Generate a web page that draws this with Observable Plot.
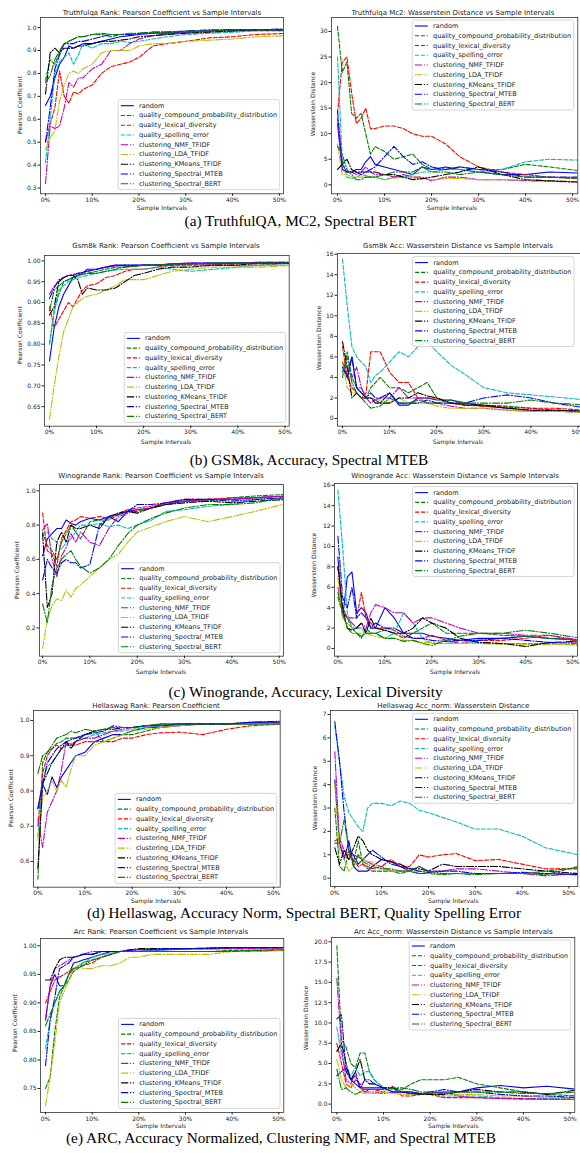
<!DOCTYPE html>
<html><head><meta charset="utf-8">
<script src="https://cdn.jsdelivr.net/npm/d3@7"></script>
<script src="https://cdn.jsdelivr.net/npm/@observablehq/plot@0.6"></script>
<style>
html,body{margin:0;padding:0;background:#fff;overflow:hidden}
#fig{position:relative;width:580px;height:1153px;font-family:"DejaVu Sans",sans-serif}
#fig svg{position:absolute}
</style></head><body><div id="fig"></div>
<script>
// ---------- shared data ----------
const sampleIntervals = [0,1,2,3,4,5,6,7,8,10,12,14,16,18,20,23,26,30,35,40,45,52];
const xTickValues = [0,10,20,30,40,50];
const seriesNames = ["random","quality_compound_probability_distribution","quality_lexical_diversity","quality_spelling_error","clustering_NMF_TFIDF","clustering_LDA_TFIDF","clustering_KMeans_TFIDF","clustering_Spectral_MTEB","clustering_Spectral_BERT"];

// y tick labels
const ticksTruthfulqaRank = [0.3,0.4,0.5,0.6,0.7,0.8,0.9,1.0];
const ticksTruthfulqaMc2 = [0,5,10,15,20,25,30];
const ticksGsm8kRank = [0.65,0.70,0.75,0.80,0.85,0.90,0.95,1.00];
const ticksGsm8kAcc = [0,2,4,6,8,10,12,14,16];
const ticksWinograndeRank = [0.2,0.4,0.6,0.8,1.0];
const ticksWinograndeAcc = [0,2,4,6,8,10,12,14,16];
const ticksHellaswagRank = [0.6,0.7,0.8,0.9,1.0];
const ticksHellaswagAcc = [0,1,2,3,4,5,6,7];
const ticksArcRank = [0.75,0.80,0.85,0.90,0.95,1.00];
const ticksArcAcc = [0,2.5,5,7.5,10,12.5,15,17.5,20];

// ---------- series values (one row per series, same order as seriesNames) ----------
const truthfulqaRank = [
 [0.66,0.70,0.78,0.84,0.87,0.92,0.91,0.92,0.93,0.93,0.94,0.95,0.96,0.965,0.97,0.975,0.975,0.98,0.985,0.99,0.99,0.99],
 [0.77,0.86,0.84,0.89,0.93,0.94,0.95,0.96,0.96,0.97,0.97,0.96,0.97,0.97,0.975,0.975,0.98,0.98,0.985,0.985,0.99,0.99],
 [0.50,0.58,0.65,0.81,0.70,0.67,0.72,0.71,0.73,0.75,0.80,0.83,0.84,0.85,0.87,0.92,0.93,0.94,0.955,0.96,0.97,0.975],
 [0.41,0.60,0.80,0.85,0.87,0.89,0.84,0.88,0.93,0.91,0.93,0.93,0.94,0.935,0.94,0.95,0.96,0.97,0.975,0.98,0.985,0.985],
 [0.32,0.57,0.56,0.57,0.65,0.76,0.74,0.78,0.78,0.82,0.84,0.90,0.90,0.93,0.95,0.965,0.97,0.98,0.985,0.99,0.99,0.99],
 [0.47,0.52,0.55,0.68,0.75,0.80,0.81,0.80,0.82,0.84,0.89,0.90,0.90,0.90,0.92,0.93,0.93,0.94,0.945,0.95,0.96,0.965],
 [0.71,0.89,0.91,0.89,0.91,0.91,0.91,0.92,0.92,0.93,0.94,0.94,0.945,0.95,0.96,0.965,0.97,0.975,0.98,0.985,0.99,0.99],
 [0.50,0.65,0.82,0.88,0.93,0.93,0.93,0.94,0.94,0.95,0.96,0.97,0.97,0.97,0.975,0.98,0.98,0.985,0.99,0.99,0.99,0.995],
 [0.76,0.79,0.86,0.90,0.93,0.94,0.95,0.96,0.96,0.97,0.975,0.97,0.97,0.975,0.975,0.98,0.98,0.985,0.985,0.99,0.99,0.99]
];
const truthfulqaMc2 = [
 [12,3,2.5,2.5,3,3,4.5,5.5,4,3.5,3,2.5,2,3.5,3,3.5,3,2.5,2,2,2.5,2.3],
 [31,22,24,14,13,14,10,6,7.5,6.5,5,5.5,6,4,3,3,3.5,3,3,4,3.5,2.7],
 [14,24,25,18,12,13,15,11,11,11.5,11.5,11,10,9.5,9.5,8,5.5,3.5,2.5,2,1.5,1.2],
 [25,5,1.5,1.2,1.5,2,1.8,1.6,1.5,1,1.5,1.5,2,2.5,2.5,3,3,2.5,3,4.5,5,4.8],
 [13,3,2.5,2.5,2,2.5,3.5,2.5,2,2,1.5,2,1.5,1.5,0.8,1.5,1.5,1,1,0.8,0.7,0.5],
 [8,2,2,1.5,1.5,1.5,1.5,1.5,1.5,1,1.3,1.5,1.3,1.2,1,1.2,1.2,1,1,1,0.8,0.6],
 [3,4,5,3,2.5,2.5,2.5,2.5,2.5,2,2,1.5,1,1.2,1.5,2,2.5,3.5,2,1,0.8,0.5],
 [14.5,4,2.5,2.5,2.5,2,2.5,3,3.5,5.5,7.5,5.5,4,4.5,3.5,3,3.5,3,2.5,1.5,1.5,1.5],
 [7.5,6,3,2,1,1,1.5,1.5,1.5,2,2.5,2.5,2.5,3.5,2.5,2.5,2,2.5,2,1.5,1.5,1.2]
];
const gsm8kRank = [
 [0.76,0.84,0.89,0.92,0.94,0.96,0.965,0.97,0.98,0.98,0.985,0.99,0.988,0.988,0.99,0.99,0.99,0.993,0.993,0.995,0.995,0.995],
 [0.80,0.88,0.92,0.95,0.955,0.96,0.965,0.968,0.97,0.975,0.98,0.985,0.985,0.987,0.99,0.99,0.993,0.993,0.995,0.995,0.995,0.995],
 [0.89,0.84,0.86,0.88,0.90,0.89,0.91,0.93,0.94,0.945,0.96,0.965,0.975,0.98,0.98,0.985,0.99,0.99,0.99,0.99,0.99,0.995],
 [0.80,0.88,0.93,0.94,0.95,0.955,0.96,0.962,0.965,0.97,0.975,0.978,0.98,0.98,0.98,0.985,0.98,0.975,0.98,0.985,0.99,0.99],
 [0.92,0.94,0.95,0.96,0.965,0.968,0.97,0.972,0.975,0.98,0.985,0.988,0.99,0.99,0.99,0.99,0.993,0.995,0.995,0.995,0.997,0.997],
 [0.62,0.70,0.77,0.83,0.86,0.89,0.90,0.91,0.915,0.92,0.93,0.94,0.955,0.955,0.955,0.965,0.975,0.98,0.985,0.985,0.985,0.99],
 [0.87,0.89,0.95,0.96,0.965,0.965,0.955,0.92,0.935,0.93,0.93,0.935,0.95,0.965,0.97,0.98,0.985,0.985,0.99,0.99,0.995,0.995],
 [0.91,0.935,0.955,0.96,0.965,0.965,0.97,0.972,0.975,0.98,0.985,0.99,0.99,0.99,0.99,0.99,0.993,0.995,0.995,0.995,0.995,0.995],
 [0.88,0.93,0.94,0.95,0.955,0.96,0.965,0.968,0.97,0.97,0.975,0.98,0.985,0.987,0.99,0.99,0.993,0.993,0.995,0.995,0.995,0.995]
];
const gsm8kAcc = [
 [5.5,4,6,3,2.5,2,2,1.8,1.5,2.5,1.3,1.3,2,2,1.8,1.8,1.5,1.2,1,0.8,0.8,0.7],
 [4,6.5,4,3,3,2,3,3.5,4,3,3,2.5,3,3.5,2,1.5,1.5,1.3,1.2,1,0.8,0.7],
 [7,4,3,2.5,2,2.5,6.5,6.5,6.5,4.5,3.5,3.5,2,2,2,1.5,1.3,1.2,1.1,1,1,0.8],
 [15.5,11,7,6,5.5,5,3.5,4.2,4.5,5.5,6.5,6,7,7.5,6.5,5.2,4.3,3,2.5,2.3,2.1,1.8],
 [5,5,4,5,3,2,1.5,1.8,2,2,3,2,2,1.5,1.5,1.2,1,1,0.8,0.7,0.7,0.6],
 [5.5,3,2.5,2.5,2,2,2,1.8,1.8,1.5,2,1.5,1.5,1.5,1.2,1,1,1,0.8,0.7,0.7,0.6],
 [7.5,5,2,2.5,2,2,2,1.5,1.5,1.5,2,2,2.5,2.2,2,1.5,1.3,1.3,1,0.8,0.8,0.7],
 [5,4,6,3,2.5,2,2.5,2,2,2.5,1.5,1.5,1.5,1.8,1.5,1.5,1.5,2,2.3,2,1.5,1],
 [4.5,6,3.5,2.5,2,1.5,1,1.1,1.2,2,1.5,1.5,1.8,1.5,1.5,1.8,1.5,1.5,1.5,1.8,1.5,1.3]
];
const winograndeRank = [
 [0.62,0.72,0.75,0.78,0.78,0.83,0.81,0.80,0.82,0.84,0.83,0.85,0.82,0.88,0.89,0.90,0.92,0.94,0.95,0.95,0.96,0.97],
 [0.76,0.68,0.65,0.60,0.70,0.75,0.80,0.76,0.72,0.82,0.83,0.83,0.86,0.88,0.88,0.90,0.93,0.94,0.94,0.96,0.97,0.98],
 [0.87,0.65,0.63,0.56,0.72,0.77,0.82,0.83,0.85,0.84,0.85,0.84,0.87,0.89,0.90,0.91,0.93,0.95,0.95,0.96,0.96,0.97],
 [0.74,0.76,0.72,0.70,0.66,0.70,0.72,0.76,0.80,0.80,0.81,0.79,0.80,0.78,0.80,0.83,0.88,0.89,0.91,0.92,0.95,0.96],
 [0.77,0.81,0.60,0.50,0.62,0.67,0.75,0.70,0.76,0.70,0.68,0.78,0.85,0.87,0.89,0.90,0.93,0.94,0.95,0.95,0.96,0.97],
 [0.08,0.25,0.33,0.37,0.36,0.42,0.38,0.43,0.45,0.50,0.55,0.60,0.63,0.70,0.76,0.79,0.82,0.85,0.82,0.85,0.88,0.93],
 [0.75,0.32,0.40,0.70,0.76,0.70,0.80,0.78,0.78,0.80,0.78,0.85,0.87,0.88,0.87,0.90,0.92,0.93,0.94,0.93,0.94,0.95],
 [0.48,0.60,0.55,0.52,0.58,0.60,0.58,0.58,0.55,0.57,0.80,0.85,0.86,0.88,0.92,0.92,0.93,0.95,0.95,0.94,0.95,0.96],
 [0.34,0.23,0.45,0.55,0.60,0.63,0.65,0.60,0.56,0.52,0.55,0.60,0.68,0.75,0.80,0.84,0.87,0.90,0.92,0.92,0.93,0.97]
];
const winograndeAcc = [
 [9,3,7,7.5,3.5,4,3.5,2,2,4,3,1.5,1.5,1.5,1.2,1,0.8,1,1,1.2,1,0.8],
 [5,3.5,3,2,1.5,1,2,1.5,1.5,1.8,1.5,1,1.5,2,2.5,1.5,1.5,1.5,1.3,1.2,1,0.8],
 [8,4,3,3,3,5.5,3,2.5,2,2,1.8,1.2,1,1,1.3,0.8,0.5,0.8,0.8,1,1.3,0.6],
 [15.5,10,3.5,2,2,2,1.5,1.5,1.5,1,1.5,3.5,2.5,1,0.5,0.5,0.8,0.5,0.5,0.5,0.5,0.3],
 [6,4,3,2.5,2,2.5,2,3.5,4.3,4,3.5,3.5,2.5,3,3,2.5,2,1.5,1.5,1.3,1.3,0.8],
 [7,3,2.5,2,1.5,1.5,1.5,1.3,1.2,1,1,0.8,0.8,0.6,0.6,0.5,0.5,0.5,0.4,0.4,0.4,0.4],
 [8,4,2,1.8,2,2.5,1.5,3,2,1.8,1.5,1.5,2,3,2.5,2,1,0.6,0.5,0.2,0.6,0.7],
 [11,5,4,6,3,3.5,3,2,2.5,2,2,1.5,1,1,0.8,0.7,0.8,0.8,1,0.8,0.6,0.5],
 [5.5,3.5,2,1.5,1.5,1.2,1.5,1.5,1.5,1,1,0.7,0.8,0.5,0.3,0.8,1.2,1.5,1.5,1.8,1.5,1]
];
const hellaswagRank = [
 [0.75,0.82,0.79,0.84,0.81,0.84,0.86,0.88,0.90,0.91,0.94,0.95,0.96,0.96,0.97,0.98,0.98,0.985,0.99,0.99,0.99,0.995],
 [0.55,0.88,0.91,0.92,0.935,0.94,0.95,0.95,0.95,0.96,0.97,0.94,0.95,0.96,0.96,0.97,0.98,0.99,0.99,0.99,0.99,0.99],
 [0.70,0.85,0.90,0.92,0.93,0.92,0.93,0.93,0.93,0.94,0.94,0.94,0.94,0.95,0.95,0.96,0.965,0.967,0.96,0.975,0.985,0.99],
 [0.67,0.82,0.87,0.88,0.90,0.92,0.93,0.935,0.94,0.95,0.96,0.965,0.97,0.97,0.975,0.98,0.985,0.99,0.99,0.99,0.99,0.99],
 [0.72,0.64,0.74,0.77,0.80,0.86,0.94,0.93,0.94,0.95,0.95,0.96,0.97,0.975,0.98,0.985,0.985,0.99,0.99,0.99,0.993,0.995],
 [0.66,0.78,0.80,0.83,0.80,0.83,0.81,0.86,0.90,0.90,0.93,0.94,0.95,0.96,0.97,0.975,0.98,0.985,0.99,0.99,0.99,0.995],
 [0.58,0.82,0.85,0.88,0.90,0.92,0.94,0.92,0.94,0.96,0.97,0.975,0.975,0.98,0.98,0.985,0.99,0.99,0.99,0.99,0.995,0.998],
 [0.75,0.82,0.88,0.90,0.92,0.93,0.94,0.945,0.95,0.96,0.965,0.97,0.985,0.98,0.98,0.985,0.985,0.99,0.99,0.99,0.995,0.995],
 [0.85,0.90,0.91,0.93,0.95,0.955,0.96,0.97,0.965,0.975,0.97,0.975,0.98,0.98,0.98,0.985,0.99,0.99,0.99,0.99,0.99,0.99]
];
const hellaswagAcc = [
 [4.2,1.5,0.8,1.6,0.5,0.3,0.3,0.3,0.5,0.8,0.7,0.5,0.3,0.2,0.2,0.2,0.2,0.2,0.2,0.2,0.2,0.15],
 [3,0.5,0.3,1.2,0.7,1.6,0.6,0.4,0.3,0.3,0.3,0.2,0.3,0.2,0.2,0.15,0.2,0.2,0.2,0.2,0.15,0.5],
 [1.6,1.7,1.2,1,0.8,0.5,0.6,0.5,0.4,0.5,0.8,0.5,0.5,1,0.9,1,1.05,0.75,0.8,0.6,0.4,0.4],
 [6.5,5,3.5,2.8,2.5,2.2,2,3,3.2,3.2,3.1,3.3,3.2,2.9,2.8,2.6,2.4,2.1,2.1,1.8,1.3,1],
 [5.4,1.5,1,0.8,1,0.9,0.8,0.7,0.6,0.5,0.3,0.3,0.3,0.5,0.3,0.3,0.4,0.4,0.3,0.2,0.1,0.2],
 [4,1.2,0.8,0.3,0.5,1,0.8,0.7,0.7,0.4,0.3,0.3,0.3,0.3,0.2,0.2,0.2,0.2,0.2,0.2,0.2,0.2],
 [1.3,0.6,1.2,0.8,1.3,1.8,1.6,1.2,1,0.8,0.7,0.6,0.4,0.4,0.3,0.6,0.5,0.5,0.5,0.4,0.3,0.2],
 [6.7,5,2.8,1.2,1,0.6,0.8,1,1.2,0.9,0.6,0.5,0.4,0.3,0.25,0.3,0.3,0.2,0.2,0.25,0.2,0.15],
 [1.5,1.5,2.5,1.2,0.5,1,0.7,0.6,0.5,0.4,0.4,0.3,0.3,0.5,0.3,0.2,0.2,0.15,0.2,0.2,0.3,0.45]
];
const arcRank = [
 [0.87,0.93,0.95,0.93,0.93,0.95,0.97,0.972,0.975,0.98,0.985,0.99,0.99,0.99,0.99,0.992,0.993,0.995,0.995,0.996,0.997,0.997],
 [0.75,0.77,0.85,0.91,0.93,0.94,0.955,0.96,0.97,0.975,0.98,0.985,0.99,0.99,0.99,0.99,0.99,0.99,0.99,0.992,0.992,0.993],
 [0.90,0.92,0.94,0.945,0.95,0.955,0.96,0.962,0.965,0.97,0.98,0.985,0.99,0.99,0.99,0.99,0.99,0.99,0.99,0.99,0.99,0.993],
 [0.82,0.87,0.90,0.92,0.93,0.95,0.96,0.965,0.97,0.98,0.985,0.987,0.99,0.99,0.99,0.992,0.993,0.994,0.995,0.995,0.995,0.995],
 [0.87,0.93,0.96,0.965,0.97,0.975,0.98,0.982,0.985,0.99,0.99,0.99,0.99,0.992,0.993,0.993,0.994,0.995,0.995,0.995,0.995,0.995],
 [0.72,0.77,0.83,0.90,0.92,0.94,0.96,0.965,0.96,0.96,0.965,0.965,0.97,0.98,0.98,0.985,0.985,0.985,0.985,0.99,0.99,0.992],
 [0.94,0.94,0.96,0.975,0.98,0.98,0.98,0.982,0.985,0.985,0.99,0.99,0.99,0.993,0.995,0.995,0.995,0.995,0.996,0.997,0.997,0.997],
 [0.79,0.87,0.91,0.96,0.965,0.97,0.98,0.982,0.985,0.985,0.99,0.99,0.99,0.992,0.993,0.994,0.995,0.995,0.996,0.997,0.997,0.997],
 [0.86,0.88,0.90,0.92,0.93,0.95,0.96,0.962,0.965,0.975,0.98,0.985,0.99,0.99,0.99,0.99,0.99,0.99,0.99,0.99,0.992,0.993]
];
const arcAcc = [
 [3.5,4,4.5,3,2.5,2,2,2,2,2,1.5,1.5,1.5,1.2,1.3,1.5,1.5,2,2.3,2,2.2,1.8],
 [19.5,8,7,5,4.5,6.3,6.3,4,3,2,2,1.8,2.5,3,3,3,3.3,2.5,2,1.5,1.2,1],
 [7.5,5,2.5,2,3,2.5,1.5,1.8,1.8,1.5,2.2,1,1,1.2,1.2,0.8,0.8,0.8,0.7,0.6,0.6,0.6],
 [9.5,6,4,3.5,4.5,3.5,4,4,3,2,1.8,1.5,1.3,1.2,1.2,1,1,1,0.8,0.7,0.7,0.6],
 [15.5,7,3,2.5,4,2,1.5,1.5,1.5,1.3,1.5,1.5,1.3,1.2,1.5,1.5,1,0.8,0.7,0.7,0.6,0.6],
 [5.5,3,2,2.5,2,1.5,1.3,1.3,1.3,1.5,1.3,1.2,1.2,1.2,1.2,1.3,1.2,1.2,1,1,0.8,0.8],
 [6.5,7.5,5,3,4,5.5,3,2.5,2.5,2,2,1.5,1.3,1.2,1.2,1.2,1.5,1.8,1.5,1.5,1.2,1.8],
 [10.5,11,4,3,3.5,2,3,3,2.5,2,1.5,1.5,1.5,1.3,1.5,1.8,1.5,1.5,1.2,1,1,0.8],
 [4.3,1.8,2,1.5,1.2,1.5,1.8,1.8,1.8,1.8,2,2,1.8,1.5,1.5,1.3,1.5,1.5,1.5,1.3,1.3,1.5]
];

const captions = [
 "(a) TruthfulQA, MC2, Spectral BERT",
 "(b) GSM8k, Accuracy, Spectral MTEB",
 "(c) Winogrande, Accuracy, Lexical Diversity",
 "(d) Hellaswag, Accuracy Norm, Spectral BERT, Quality Spelling Error",
 "(e) ARC, Accuracy Normalized, Clustering NMF, and Spectral MTEB"
];

// ---------- styling / layout ----------
const seriesColors = ["#0000ff","#008000","#ff0000","#00bfbf","#bf00bf","#bfbf00","#000000","#0000ff","#008000"];
const seriesDash = [null,"4.2,1.8","4.2,1.8","4.2,1.8","7.2,1.8,1.1,1.8","7.2,1.8,1.1,1.8","7.2,1.8,1.1,1.8","7.2,1.8,1.1,1.8","7.2,1.8,1.1,1.8"];
const R = "Pearson Coefficient", W = "Wasserstein Distance";
const panels = [
 {data:truthfulqaRank, title:"Truthfulqa Rank: Pearson Coefficient vs Sample Intervals", ylab:R, yticks:ticksTruthfulqaRank, fmt:".1f",
  frame:[40,16.7,283,193], xd:[-1.07,50.9], yd:[0.275,1.044], t:[162,14.5], yl:[19,105], xl:[162,210], leg:"lr"},
 {data:truthfulqaMc2, title:"Truthfulqa Mc2: Wasserstein Distance vs Sample Intervals", ylab:W, yticks:ticksTruthfulqaMc2, fmt:"d",
  frame:[330.7,16.7,577,193], xd:[-1.28,51.1], yd:[-1.76,32.74], t:[453,14.5], yl:[312.7,104], xl:[452,210], leg:"ur"},
 {data:gsm8kRank, title:"Gsm8k Rank: Pearson Coefficient vs Sample Intervals", ylab:R, yticks:ticksGsm8kRank, fmt:".2f",
  frame:[44.3,255,289,425.7], xd:[-1.06,50.9], yd:[0.603,1.013], t:[166,248], yl:[19,335], xl:[166,444], leg:"lr"},
 {data:gsm8kAcc, title:"Gsm8k Acc: Wasserstein Distance vs Sample Intervals", ylab:W, yticks:ticksGsm8kAcc, fmt:"d",
  frame:[336.7,253.3,581.5,426], xd:[-1.06,50.9], yd:[-0.75,16.07], t:[458,248], yl:[318.3,338], xl:[458,444], leg:"ur"},
 {data:winograndeRank, title:"Winogrande Rank: Pearson Coefficient vs Sample Intervals", ylab:R, yticks:ticksWinograndeRank, fmt:".1f",
  frame:[39.3,484.3,283.3,656], xd:[-0.65,50.9], yd:[0.035,1.037], t:[161,478], yl:[16,570], xl:[161,674], leg:"lr"},
 {data:winograndeAcc, title:"Winogrande Acc: Wasserstein Distance vs Sample Intervals", ylab:W, yticks:ticksWinograndeAcc, fmt:"d",
  frame:[334.3,483.3,577.3,656], xd:[-0.72,51.0], yd:[-0.75,16.17], t:[455,478], yl:[313.3,565], xl:[455,674], leg:"ur"},
 {data:hellaswagRank, title:"Hellaswag Rank: Pearson Coefficient", ylab:R, yticks:ticksHellaswagRank, fmt:".1f",
  frame:[33.3,710,280,886.7], xd:[-0.93,51.4], yd:[0.527,1.0284], t:[156,707.5], yl:[10.7,798], xl:[156,903.3], leg:"lr"},
 {data:hellaswagAcc, title:"Hellaswag Acc_norm: Wasserstein Distance", ylab:W, yticks:ticksHellaswagAcc, fmt:"d",
  frame:[330,710,577.3,886], xd:[-0.92,51.9], yd:[-0.355,7.17], t:[453.3,707.5], yl:[314,798], xl:[453.3,903.3], leg:"ur"},
 {data:arcRank, title:"Arc Rank: Pearson Coefficient vs Sample Intervals", ylab:R, yticks:ticksArcRank, fmt:".2f",
  frame:[40,937.7,283.3,1111.7], xd:[-1.07,51.07], yd:[0.708,1.0128], t:[161,933.5], yl:[14.3,1023], xl:[161,1128], leg:"lr"},
 {data:arcAcc, title:"Arc Acc_norm: Wasserstein Distance vs Sample Intervals", ylab:W, yticks:ticksArcAcc, fmt:".1f",
  frame:[330.7,936.7,574,1111.7], xd:[-1.14,51.0], yd:[-1.03,20.53], t:[453.3,933.5], yl:[305.7,1018], xl:[453.3,1128], leg:"ur"}
];
const captionPos = [[300.5,226],[309,465],[305.5,697],[304,917.5],[281,1143]];

const fig = document.getElementById("fig");

function drawPanel(p) {
  const [fx0, fy0, fx1, fy1] = p.frame;
  const ml = 40, mr = 4, mt = 4, mb = 14;
  const marks = seriesNames.map((name, i) => Plot.line(
    sampleIntervals.map((x, j) => ({x, y: p.data[i][j]})),
    {x: "x", y: "y", stroke: seriesColors[i], strokeWidth: 1.1,
     strokeDasharray: seriesDash[i] || undefined, clip: true}));
  marks.push(Plot.frame({stroke: "#333", strokeWidth: 0.8}));
  marks.push(Plot.axisX({ticks: xTickValues, tickFormat: d => d + "%", tickSize: 2.5, tickPadding: 1.5, label: null}));
  marks.push(Plot.axisY({ticks: p.yticks, tickFormat: d3.format(p.fmt), tickSize: 2.5, tickPadding: 1.5, label: null}));
  const svg = Plot.plot({
    width: fx1 - fx0 + ml + mr, height: fy1 - fy0 + mt + mb,
    marginLeft: ml, marginRight: mr, marginTop: mt, marginBottom: mb,
    x: {domain: p.xd}, y: {domain: p.yd},
    style: {fontFamily: "DejaVu Sans", fontSize: "6px", background: "transparent", overflow: "visible", color: "#222"},
    marks
  });
  svg.style.left = (fx0 - ml) + "px";
  svg.style.top = (fy0 - mt) + "px";
  fig.appendChild(svg);
}
panels.forEach(drawPanel);

// ---------- overlay: titles, axis labels, legends, captions ----------
const ov = d3.select(fig).append("svg").attr("width", 580).attr("height", 1153)
  .style("left", "0px").style("top", "0px").style("font-family", "DejaVu Sans").attr("fill", "#222");

panels.forEach(p => {
  const [fx0, fy0, fx1, fy1] = p.frame;
  ov.append("text").attr("x", p.t[0]).attr("y", p.t[1]).attr("text-anchor", "middle").attr("font-size", 7).text(p.title);
  ov.append("text").attr("x", p.xl[0]).attr("y", p.xl[1]).attr("text-anchor", "middle").attr("font-size", 6).text("Sample Intervals");
  ov.append("text").attr("transform", `translate(${p.yl[0]},${p.yl[1]}) rotate(-90)`).attr("text-anchor", "middle")
    .attr("dominant-baseline", "central").attr("font-size", 6).text(p.ylab);
  // legend
  const lw = 161.5, lh = 90, pad = 3.3;
  const x1 = Math.min(fx1, 577.3) - pad, x0 = x1 - lw;
  const y0 = p.leg === "ur" ? fy0 + pad : fy1 - pad - lh;
  const g = ov.append("g");
  g.append("rect").attr("x", x0).attr("y", y0).attr("width", lw).attr("height", lh).attr("rx", 2)
    .attr("fill", "white").attr("fill-opacity", 0.8).attr("stroke", "#cccccc").attr("stroke-width", 0.8);
  seriesNames.forEach((name, i) => {
    const yy = y0 + 6 + i * 9.75;
    g.append("line").attr("x1", x0 + 2.6).attr("x2", x0 + 15.6).attr("y1", yy).attr("y2", yy)
      .attr("stroke", seriesColors[i]).attr("stroke-width", 1.1).attr("stroke-dasharray", seriesDash[i]);
    g.append("text").attr("x", x0 + 20.8).attr("y", yy).attr("dominant-baseline", "central")
      .attr("font-size", 6.5).text(name);
  });
});

captions.forEach((c, i) => {
  ov.append("text").attr("x", captionPos[i][0]).attr("y", captionPos[i][1]).attr("text-anchor", "middle")
    .attr("font-family", "Liberation Serif").attr("font-size", 15.3).attr("fill", "#000").text(c);
});
</script></body></html>
